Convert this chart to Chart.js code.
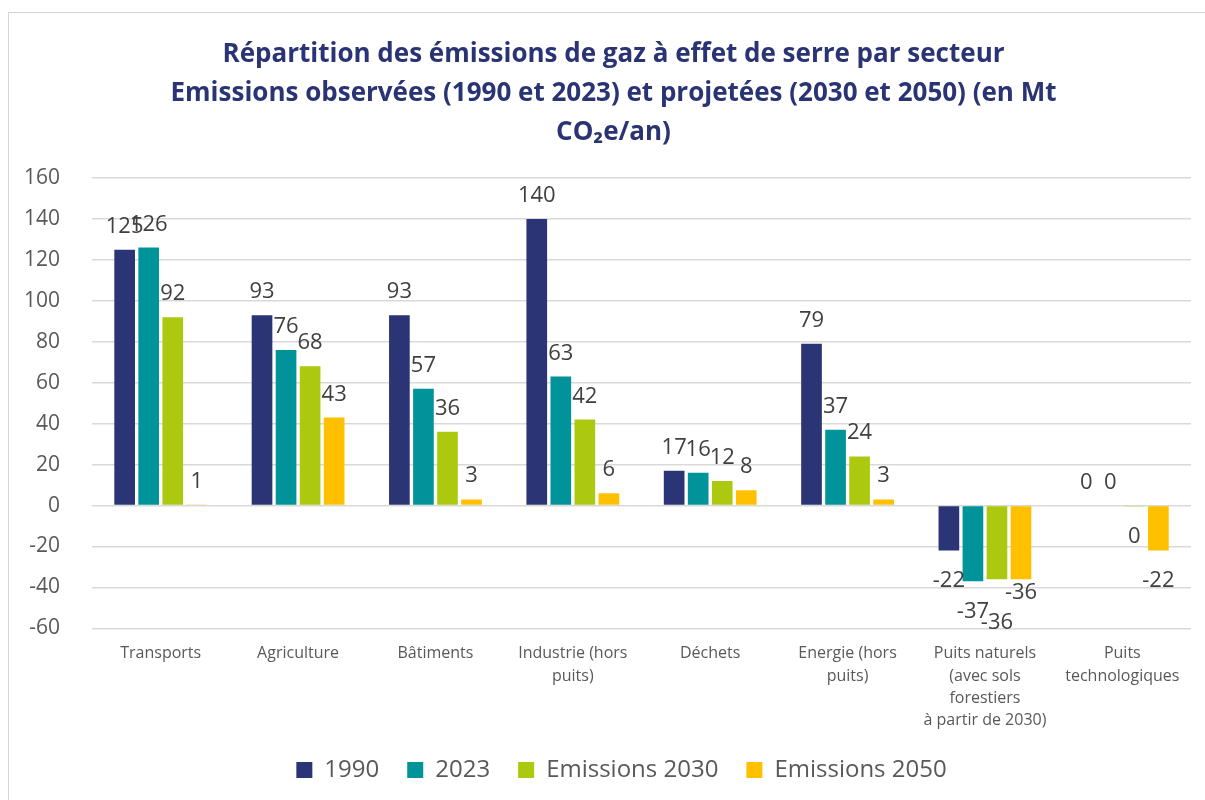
<!DOCTYPE html>
<html lang="fr">
<head>
    <meta charset="UTF-8">
    <title>Répartition des émissions de gaz à effet de serre par secteur</title>
    <script src="https://cdn.jsdelivr.net/npm/chart.js"></script>
    <style>
        html, body {
            margin: 0;
            padding: 0;
            background: white;
        }

        .frame {
            position: absolute;
            left: 8px;
            top: 12px;
            width: 1300px;
            height: 900px;
            border-left: 1px solid #d4d4d4;
            border-top: 1px solid #d4d4d4;
        }

        .chart-box {
            position: absolute;
            left: 0;
            top: 0;
            width: 1205px;
            height: 800px;
        }
    </style>
</head>
<body>
    <div class="frame"></div>
    <div class="chart-box">
        <canvas id="emissionsChart"></canvas>
    </div>

    <script>
        // Secteurs (axe X), chaque libellé sur plusieurs lignes
        const sectors = [
            'Transports',
            'Agriculture',
            'Bâtiments',
            ['Industrie (hors', 'puits)'],
            'Déchets',
            ['Energie (hors', 'puits)'],
            ['Puits naturels', '(avec sols', 'forestiers', 'à partir de 2030)'],
            ['Puits', 'technologiques']
        ];

        // Emissions en Mt CO2e/an
        const values1990 = [125, 93, 93, 140, 17, 79, -22, 0];
        const values2023 = [126, 76, 57, 63, 16, 37, -37, 0];
        const values2030 = [92, 68, 36, 42, 12, 24, -36, -0.4];
        const values2050 = [0.5, 43, 3, 6, 7.5, 3, -36, -22];

        const seriesNames = ['1990', '2023', 'Emissions 2030', 'Emissions 2050'];
        const seriesColors = ['#2b3474', '#00949a', '#adc90f', '#ffc000'];

        const yTicks = { min: -60, max: 160, step: 20 };

        // quelques étiquettes déplacées à la main dans l'original
        const labelNudge = { '2:6': 13, '3:6': -17 };

        const fontFamily = '"Open Sans", "Noto Sans", sans-serif';

        // étiquettes de valeurs au-dessus / au-dessous des barres
        const barLabels = {
            id: 'barLabels',
            afterLayout(chart) {
                // titre et légende de l'original un peu décalés vers la droite
                chart.titleBlock.left += 44;
                chart.legend.left += 60;
            },
            afterDatasetsDraw(chart) {
                const ctx = chart.ctx;
                ctx.save();
                ctx.font = '22px ' + fontFamily;
                ctx.fillStyle = '#404040';
                ctx.textAlign = 'center';
                chart.data.datasets.forEach((ds, di) => {
                    const meta = chart.getDatasetMeta(di);
                    meta.data.forEach((bar, i) => {
                        const v = ds.data[i];
                        const txt = String(Math.round(v) || 0);
                        const nudge = labelNudge[di + ':' + i] || 0;
                        if (v < 0) {
                            ctx.textBaseline = 'top';
                            ctx.fillText(txt, bar.x, bar.y + 19 + nudge);
                        } else {
                            ctx.textBaseline = 'alphabetic';
                            ctx.fillText(txt, bar.x, bar.y - 17 + nudge);
                        }
                    });
                });
                ctx.restore();
            }
        };

        const allSeries = [values1990, values2023, values2030, values2050];

        const ctx = document.getElementById('emissionsChart').getContext('2d');

        new Chart(ctx, {
            type: 'bar',
            data: {
                labels: sectors,
                datasets: allSeries.map((vals, k) => ({
                    label: seriesNames[k],
                    data: vals,
                    backgroundColor: seriesColors[k],
                    borderWidth: 0,
                    categoryPercentage: 0.7,
                    barPercentage: 0.86
                }))
            },
            options: {
                responsive: true,
                maintainAspectRatio: false,
                animation: false,
                layout: {
                    padding: { left: -8, right: 14, top: 20, bottom: 8 }
                },
                plugins: {
                    title: {
                        display: true,
                        text: [
                            'Répartition des émissions de gaz à effet de serre par secteur',
                            'Emissions observées (1990 et 2023) et projetées (2030 et 2050) (en Mt',
                            'CO₂e/an)'
                        ],
                        color: '#2a3474',
                        font: { family: fontFamily, size: 26, weight: 'bold', lineHeight: 1.5 },
                        padding: { top: 15, bottom: 26 }
                    },
                    legend: {
                        position: 'bottom',
                        labels: {
                            color: '#595959',
                            font: { family: fontFamily, size: 24 },
                            boxWidth: 16,
                            boxHeight: 16,
                            padding: 28
                        }
                    },
                    tooltip: { enabled: false }
                },
                scales: {
                    x: {
                        grid: { display: false },
                        border: { display: false },
                        ticks: {
                            color: '#595959',
                            font: { family: fontFamily, size: 16, lineHeight: 1.4 },
                            maxRotation: 0,
                            autoSkip: false,
                            padding: 6
                        },
                        afterFit(scale) {
                            scale.height -= 8;
                        }
                    },
                    y: {
                        min: yTicks.min,
                        max: yTicks.max,
                        grid: { color: '#d9d9d9', lineWidth: 1.5, drawTicks: false },
                        border: { display: false },
                        ticks: {
                            stepSize: yTicks.step,
                            color: '#595959',
                            font: { family: fontFamily, size: 21 },
                            padding: 32
                        }
                    }
                }
            },
            plugins: [barLabels]
        });
    </script>
</body>
</html>
